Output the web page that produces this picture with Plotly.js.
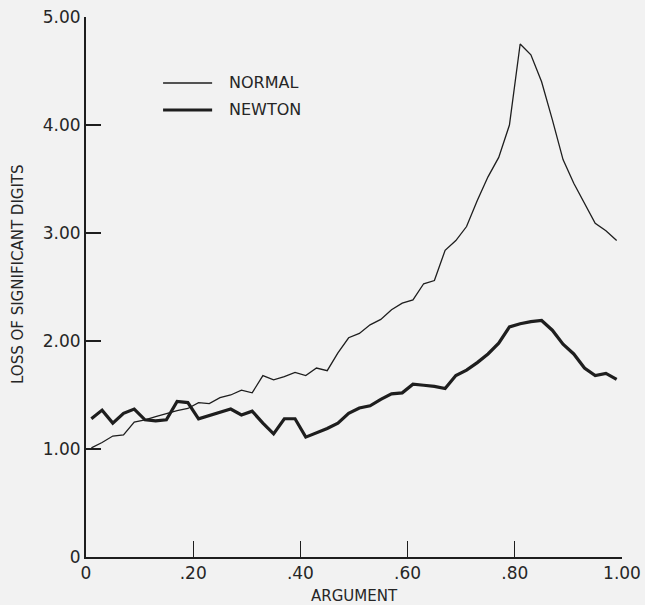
<!DOCTYPE html>
<html>
<head>
<meta charset="utf-8">
<script src="https://cdn.plot.ly/plotly-3.0.1.min.js"></script>
<style>html,body{margin:0;padding:0;background:#f2f2f2;}#chart{width:645px;height:605px;}</style>
</head>
<body>
<div id="chart"></div>
<script>
// Argument values (0.01 .. 0.99)
var argument = [0.01,0.03,0.05,0.07,0.09,0.11,0.13,0.15,0.17,0.19,
                0.21,0.23,0.25,0.27,0.29,0.31,0.33,0.35,0.37,0.39,
                0.41,0.43,0.45,0.47,0.49,0.51,0.53,0.55,0.57,0.59,
                0.61,0.63,0.65,0.67,0.69,0.71,0.73,0.75,0.77,0.79,
                0.81,0.83,0.85,0.87,0.89,0.91,0.93,0.95,0.97,0.99];
var normalLoss = [1.01,1.06,1.12,1.13,1.25,1.27,1.30,1.33,1.355,1.375,
                  1.43,1.42,1.475,1.50,1.545,1.52,1.68,1.64,1.67,1.71,
                  1.68,1.75,1.725,1.89,2.03,2.07,2.15,2.20,2.29,2.35,
                  2.38,2.53,2.56,2.84,2.93,3.06,3.30,3.52,3.70,4.00,
                  4.75,4.65,4.40,4.05,3.68,3.46,3.27,3.09,3.02,2.93];
var newtonLoss = [1.28,1.36,1.24,1.33,1.37,1.27,1.26,1.27,1.44,1.43,
                  1.28,1.31,1.34,1.37,1.315,1.35,1.24,1.14,1.28,1.28,
                  1.11,1.15,1.19,1.24,1.33,1.38,1.40,1.46,1.51,1.52,
                  1.60,1.59,1.58,1.56,1.68,1.73,1.80,1.88,1.98,2.13,
                  2.16,2.18,2.19,2.10,1.97,1.88,1.75,1.68,1.70,1.645];
var seriesNames = ["NORMAL", "NEWTON"];
var xTickVals = [0, 0.2, 0.4, 0.6, 0.8, 1.0];
var xTickText = ["0", ".20", ".40", ".60", ".80", "1.00"];
var yTickVals = [0, 1, 2, 3, 4, 5];
var yTickText = ["0", "1.00", "2.00", "3.00", "4.00", "5.00"];

var ink = "#1e1e1e";
var txt = "#262626";
var fontFam = "'DejaVu Sans', 'Noto Sans', sans-serif";

var traces = [
  {x: argument, y: normalLoss, name: seriesNames[0], mode: "lines", line: {color: ink, width: 1.3}},
  {x: argument, y: newtonLoss, name: seriesNames[1], mode: "lines", line: {color: ink, width: 3.2}}
];

var legY = [0.8778, 0.8278];
var legW = [1.3, 3.2];
var shapes = [], annotations = [];
for (var i = 0; i < seriesNames.length; i++) {
  shapes.push({type: "line", xref: "paper", yref: "paper", x0: 0.1438, x1: 0.2353, y0: legY[i], y1: legY[i],
               line: {color: ink, width: legW[i]}});
  annotations.push({xref: "paper", yref: "paper", x: 0.263, y: legY[i], xanchor: "left", yanchor: "middle",
                    text: seriesNames[i], showarrow: false, font: {family: fontFam, size: 16, color: txt}});
}
annotations.push({xref: "paper", yref: "paper", x: -0.127, y: 0.524, xanchor: "center", yanchor: "middle",
                  text: "LOSS OF SIGNIFICANT DIGITS", textangle: -90, showarrow: false,
                  font: {family: fontFam, size: 15, color: txt}});

var layout = {
  width: 645, height: 605,
  paper_bgcolor: "#f2f2f2", plot_bgcolor: "#f2f2f2",
  margin: {l: 86, r: 23, t: 17, b: 48, pad: 0},
  showlegend: false,
  font: {family: fontFam, color: txt},
  xaxis: {
    range: [0, 1], tickvals: xTickVals, ticktext: xTickText,
    ticks: "inside", ticklen: 16, tickwidth: 1.3, tickcolor: ink,
    showline: true, linecolor: ink, linewidth: 2, showgrid: false, zeroline: false,
    tickfont: {family: fontFam, size: 17, color: txt},
    title: {text: "ARGUMENT", font: {family: fontFam, size: 15, color: txt}, standoff: 10}
  },
  yaxis: {
    range: [0, 5], tickvals: yTickVals, ticktext: yTickText,
    ticks: "inside", ticklen: 15, tickwidth: 1.3, tickcolor: ink,
    showline: true, linecolor: ink, linewidth: 2, showgrid: false, zeroline: false,
    tickfont: {family: fontFam, size: 17, color: txt}
  },
  shapes: shapes,
  annotations: annotations
};

Plotly.newPlot("chart", traces, layout, {displayModeBar: false, staticPlot: true});
</script>
</body>
</html>
